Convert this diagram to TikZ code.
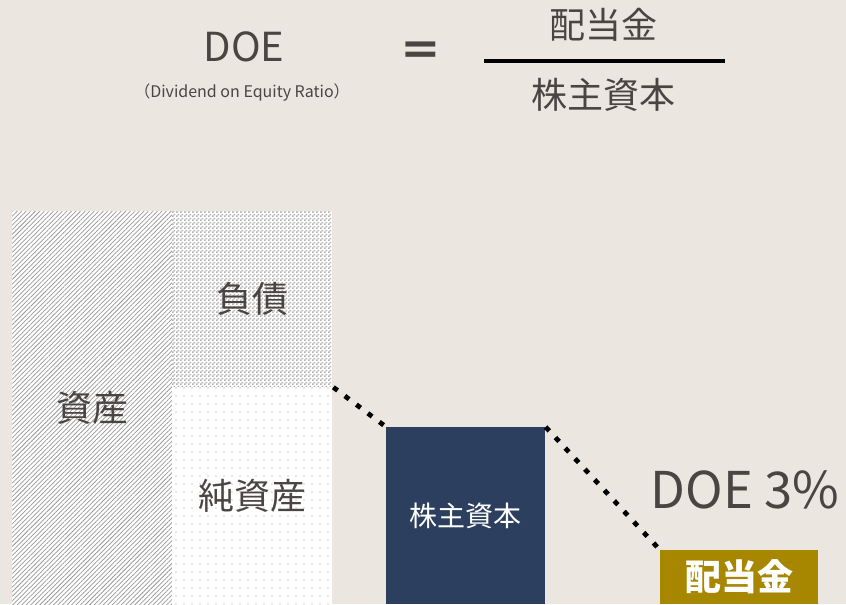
\documentclass[tikz,border=0pt]{standalone}
\usepackage{fontspec}
\setmainfont{Noto Sans CJK JP}
\definecolor{doebg}{RGB}{235, 231, 224}
\definecolor{doetext}{RGB}{74, 69, 67}
\definecolor{doenavy}{RGB}{44, 63, 94}
\definecolor{doegold}{RGB}{168, 135, 0}
\usepackage{tikz}
\usetikzlibrary{patterns, patterns.meta, positioning, calc}
\pgfdeclarepatternformonly{finechecker}{\pgfpointorigin}{\pgfqpoint{3pt}{3pt}}{\pgfqpoint{3pt}{3pt}}{
  \pgfpathrectangle{\pgfpointorigin}{\pgfqpoint{1.5pt}{1.5pt}}
  \pgfpathrectangle{\pgfqpoint{1.5pt}{1.5pt}}{\pgfqpoint{1.5pt}{1.5pt}}
  \pgfusepath{fill}}

\begin{document}
\begin{tikzpicture}[x=0.75pt, y=-0.75pt,
    box/.style={inner sep=0pt, text=doetext, font=\fontsize{27pt}{30pt}\selectfont},
    dotline/.style={line width=3.6pt, line cap=rect, dash pattern=on 0.4pt off 10.4pt}]
  % background / page size
  \fill[doebg] (0,0) rectangle (846,604);
  \useasboundingbox (0,0) rectangle (846,604);

  % formula
  \node[text=doetext, font=\fontsize{30pt}{32pt}\selectfont] (doe) at (244,47) {DOE};
  \node[text=doetext, font=\fontsize{12pt}{14pt}\selectfont] (doefull) at (242,93) {（Dividend on Equity Ratio）};
  \node[text=doetext, font=\fontsize{32pt}{34pt}\selectfont\bfseries] (eq) at (421,54) {＝};
  \node[text=doetext, font=\fontsize{27pt}{30pt}\selectfont] (numer) at (603,25) {配当金};
  \node[text=doetext, font=\fontsize{27pt}{30pt}\selectfont] (denom) at (603,95) {株主資本};
  \coordinate (barl) at (484,61);
  \coordinate (barr) at (725,61);
  \draw[line width=2.6pt] (barl) -- (barr);

  % balance sheet
  \node[box, minimum width=120pt, minimum height=294.75pt, preaction={fill=white},
        pattern={Lines[angle=45, distance=2.4pt, line width=0.55pt]}, pattern color=gray!80]
        (assets) at (92,407.5) {資産};
  \node[box, minimum width=120pt, minimum height=132pt, preaction={fill=white},
        pattern=finechecker, pattern color=gray!60]
        (debt) at (252,299) {負債};
  \node[box, minimum width=120pt, minimum height=162.75pt, preaction={fill=white},
        pattern={Dots[distance=6pt, radius=0.55pt]}, pattern color=gray!80]
        (net) at (252,495.5) {純資産};

  % equity and dividend
  \node[box, fill=doenavy, text=white, minimum width=119.25pt, minimum height=132.75pt,
        font=\fontsize{21pt}{24pt}\selectfont] (equity) at (465.5,515.5) {株主資本};
  \node[box, fill=doegold, text=white, minimum width=118.5pt, minimum height=40.5pt,
        font=\fontsize{27pt}{30pt}\selectfont\bfseries] (dividend) at (739,577) {配当金};
  \node[text=doetext, font=\fontsize{38pt}{40pt}\selectfont] (rate) at (745,490) {DOE 3\%};

  \draw[dotline] ($(net.north east)+(3,2)$) -- (equity.north west);
  \draw[dotline] ($(equity.north east)+(2,2)$) -- (dividend.north west);
\end{tikzpicture}
\end{document}
